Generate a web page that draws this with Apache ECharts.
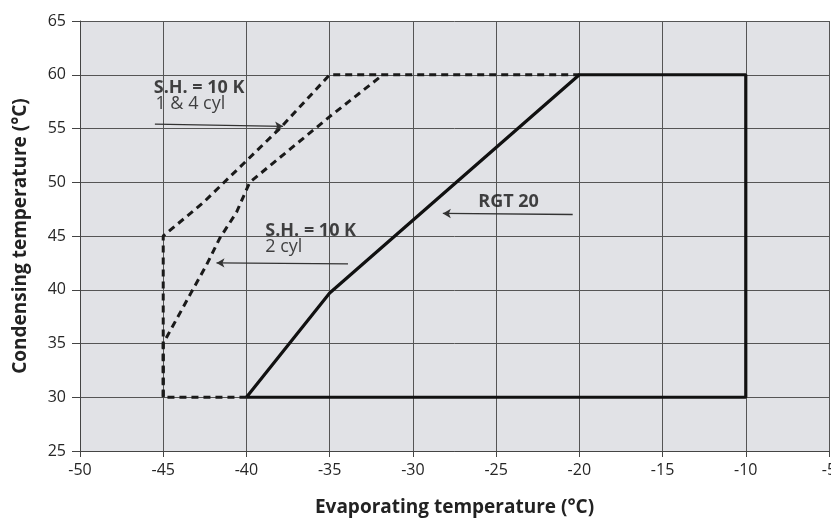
<!DOCTYPE html>
<html>
<head>
<meta charset="utf-8">
<script src="https://cdn.jsdelivr.net/npm/echarts@6/dist/echarts.min.js"></script>
<style>
  html, body { margin: 0; padding: 0; background: #fff; }
  #chart { width: 831px; height: 521px; }
</style>
</head>
<body>
<div id="chart"></div>
<script>
// envelope points [evaporating, condensing]
const rgt20 = [[-40, 30], [-35, 39.7], [-20, 60], [-10, 60], [-10, 30], [-40, 30]]
const sh14cyl = [[-40, 30], [-45, 30], [-45, 45], [-42.6, 48.1], [-40, 52], [-38, 55], [-35, 60], [-20, 60]]
const sh2cyl = [[-45, 30], [-45, 35], [-44.4, 36.7], [-43.9, 38.1], [-43.3, 39.8], [-42.4, 42.3], [-41.6, 44.8], [-40.6, 47.2], [-39.8, 50], [-35, 56.1], [-31.8, 60]]

// annotation texts and their anchor points
const noteTexts = ['S.H. = 10 K', '1 & 4 cyl', 'S.H. = 10 K', '2 cyl', 'RGT 20']
const noteBold = [true, false, true, false, true]
const notePoints = [[-45.6, 58.8], [-45.5, 57.3], [-38.9, 45.5], [-38.9, 44.0], [-26.1, 48.2]]
// arrows: [from, to], head at "to"
const arrows = [
  [[-45.5, 55.4], [-37.8, 55.2]],
  [[-33.9, 42.4], [-41.8, 42.5]],
  [[-20.4, 47.0], [-28.2, 47.1]]
]

const font = 'Open Sans'
const chart = echarts.init(document.getElementById('chart'))

const dashed = (name, data) => ({
  name,
  type: 'line',
  data,
  showSymbol: false,
  silent: true,
  lineStyle: { color: '#1a1a1a', width: 3, type: [7, 5] }
})

chart.setOption({
  animation: false,
  textStyle: { fontFamily: font },
  grid: {
    left: 80, right: 2, top: 21, bottom: 70,
    outerBoundsMode: 'none',
    show: true, backgroundColor: '#e1e2e6', borderWidth: 0
  },
  xAxis: {
    type: 'value', min: -50, max: -5, interval: 5,
    name: 'Evaporating temperature (°C)',
    nameLocation: 'middle', nameGap: 47,
    nameTextStyle: { fontSize: 19, fontWeight: 'bold', color: '#222', fontFamily: font },
    axisLine: { show: true, onZero: false, lineStyle: { color: '#444', width: 1 } },
    axisTick: { show: true, length: 6, lineStyle: { color: '#444' } },
    axisLabel: { color: '#262626', fontSize: 16, margin: 11, fontFamily: font },
    splitLine: { show: true, lineStyle: { color: '#555', width: 1 } }
  },
  yAxis: {
    type: 'value', min: 25, max: 65, interval: 5,
    name: 'Condensing temperature (°C)',
    nameLocation: 'middle', nameGap: 50,
    nameTextStyle: { fontSize: 19, fontWeight: 'bold', color: '#222', fontFamily: font },
    axisLine: { show: true, onZero: false, lineStyle: { color: '#444', width: 1 } },
    axisTick: { show: true, length: 8, lineStyle: { color: '#444' } },
    axisLabel: { color: '#262626', fontSize: 16, margin: 14, fontFamily: font },
    splitLine: { show: true, lineStyle: { color: '#555', width: 1 } }
  },
  series: [
    dashed('S.H. 1 & 4 cyl', sh14cyl),
    dashed('S.H. 2 cyl', sh2cyl),
    {
      name: 'RGT 20',
      type: 'line',
      data: rgt20,
      showSymbol: false,
      silent: true,
      lineStyle: { color: '#111', width: 3.2 },
      markLine: {
        silent: true,
        symbol: ['none', 'arrow'],
        symbolSize: [7, 8],
        label: { show: false },
        lineStyle: { color: '#333', width: 1.3, type: 'solid' },
        data: arrows.map(a => [{ coord: a[0] }, { coord: a[1] }])
      }
    },
    {
      name: 'notes',
      type: 'scatter',
      silent: true,
      symbolSize: 1,
      itemStyle: { color: 'rgba(0,0,0,0)' },
      data: notePoints.map((p, i) => ({
        value: p,
        label: {
          show: true,
          position: 'right',
          distance: 0,
          formatter: noteTexts[i],
          fontSize: 18,
          fontWeight: noteBold[i] ? 'bold' : 'normal',
          color: '#151515',
          fontFamily: font
        }
      }))
    }
  ]
})
</script>
</body>
</html>
